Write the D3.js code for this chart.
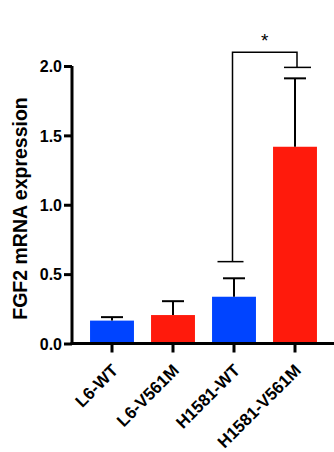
<!DOCTYPE html>
<html><head><meta charset="utf-8">
<script src="https://cdn.jsdelivr.net/npm/d3@7"></script>
<style>html,body{margin:0;padding:0;background:#fff;}svg{display:block;}</style>
</head><body>
<svg id="c" width="334" height="452"></svg>
<script>
const categories = ["L6-WT", "L6-V561M", "H1581-WT", "H1581-V561M"];
const means = [0.165, 0.205, 0.337, 1.418];
const errors = [0.025, 0.10, 0.133, 0.493];
const colors = ["#0044ff", "#ff1a0c", "#0044ff", "#ff1a0c"];
const yTicks = [0.0, 0.5, 1.0, 1.5, 2.0];
const yTitle = "FGF2 mRNA expression";
const sigPair = [2, 3];
const sigLevels = [0.59, 2.10, 1.99];
const sigLabel = "*";

const svg = d3.select("#c");
const font = "'Liberation Sans', Arial, Helvetica, sans-serif";

const x = d3.scaleBand().domain(categories).range([81.5, 325.5]).paddingInner(0.28).paddingOuter(0.14);
const y = d3.scaleLinear().domain([0, 2]).range([343.5, 66]);

// bars
svg.selectAll("rect.bar").data(categories).enter().append("rect")
  .attr("class", "bar")
  .attr("x", d => x(d))
  .attr("width", x.bandwidth())
  .attr("y", (d, i) => y(means[i]))
  .attr("height", (d, i) => y(0) - y(means[i]))
  .attr("fill", (d, i) => colors[i]);

// error bars
const eg = svg.append("g").attr("stroke", "#000").attr("stroke-width", 2);
categories.forEach((c, i) => {
  const cx = x(c) + x.bandwidth() / 2;
  eg.append("line").attr("x1", cx).attr("x2", cx).attr("y1", y(means[i])).attr("y2", y(means[i] + errors[i]));
  eg.append("line").attr("x1", cx - 11).attr("x2", cx + 11).attr("y1", y(means[i] + errors[i])).attr("y2", y(means[i] + errors[i]));
});

// y axis
const yAxis = d3.axisLeft(y).tickValues(yTicks).tickFormat(d3.format(".1f")).tickSize(8).tickPadding(2);
const ya = svg.append("g").attr("transform", "translate(72,0)").call(yAxis);
ya.select(".domain").attr("d", `M0,${y(2)}V${y(0) + 1.5}`).attr("stroke-width", 3).attr("stroke", "#000");
ya.selectAll(".tick line").attr("stroke-width", 3).attr("stroke", "#000");
ya.selectAll(".tick text").attr("font-family", font).attr("font-weight", "bold").attr("font-size", 16).attr("fill", "#000")
  .attr("dy", "0.36em");

// x axis
const xAxis = d3.axisBottom(x).tickSize(9).tickFormat("");
const xa = svg.append("g").attr("transform", `translate(0,${y(0)})`).call(xAxis);
xa.select(".domain").attr("d", `M70.5,0H334`).attr("stroke-width", 3).attr("stroke", "#000");
xa.selectAll(".tick line").attr("stroke-width", 3).attr("stroke", "#000");

// rotated x labels
svg.selectAll("text.xl").data(categories).enter().append("text")
  .attr("class", "xl")
  .attr("font-family", font).attr("font-weight", "bold").attr("font-size", 17)
  .attr("text-anchor", "end")
  .attr("transform", d => `translate(${x(d) + x.bandwidth() / 2 + 7},${y(0) + 28}) rotate(-45)`)
  .text(d => d);

// y title
svg.append("text")
  .attr("font-family", font).attr("font-weight", "bold").attr("font-size", 19.5)
  .attr("text-anchor", "middle")
  .attr("transform", `translate(27,208.5) rotate(-90)`)
  .text(yTitle);

// significance bracket
const lx = x(categories[sigPair[0]]) + x.bandwidth() / 2 - 1.5;
const rx = x(categories[sigPair[1]]) + x.bandwidth() / 2 + 2;
const sg = svg.append("g").attr("stroke", "#000").attr("stroke-width", 1.5).attr("fill", "none");
sg.append("path").attr("d", `M${lx},${y(sigLevels[0])}V${y(sigLevels[1])}H${rx}V${y(sigLevels[2])}`);
sg.append("line").attr("x1", lx - 15).attr("x2", lx + 11).attr("y1", y(sigLevels[0])).attr("y2", y(sigLevels[0]));
sg.append("line").attr("x1", rx - 13).attr("x2", rx + 14).attr("y1", y(sigLevels[2])).attr("y2", y(sigLevels[2]));
svg.append("text").attr("font-family", font).attr("font-size", 19).attr("text-anchor", "middle")
  .attr("x", (lx + rx) / 2).attr("y", 47).text(sigLabel);
</script>
</body></html>
